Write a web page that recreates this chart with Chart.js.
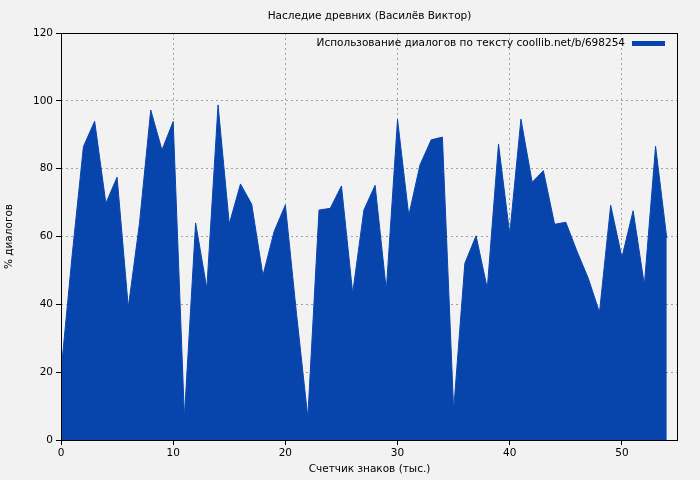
<!DOCTYPE html>
<html>
<head>
<meta charset="utf-8">
<script src="https://cdn.jsdelivr.net/npm/chart.js@4"></script>
<style>
    html, body { margin: 0; padding: 0; background: #f2f2f2; }
    #wrap { width: 700px; height: 480px; }
</style>
</head>
<body>
<div id="wrap"><canvas id="chart" width="700" height="480"></canvas></div>
<script>
const chartTitle = "Наследие древних (Василёв Виктор)";
const seriesLabel = "Использование диалогов по тексту coollib.net/b/698254";
const xTitle = "Счетчик знаков (тыс.)";
const yTitle = "% диалогов";

// thousands of characters
const positions = [
    0, 1, 2, 3, 4, 5, 6, 7, 8, 9,
    10, 11, 12, 13, 14, 15, 16, 17, 18, 19,
    20, 21, 22, 23, 24, 25, 26, 27, 28, 29,
    30, 31, 32, 33, 34, 35, 36, 37, 38, 39,
    40, 41, 42, 43, 44, 45, 46, 47, 48, 49,
    50, 51, 52, 53, 54,
];
// % of dialogue
const dialogShare = [
    20, 54.6, 86.5, 94, 69.8, 77.5, 39.1, 64, 97.3, 85.5,
    93.9, 6.7, 64, 44.7, 98.8, 63.7, 75.5, 69.5, 48.5, 61.5,
    69.3, 37, 6.7, 67.8, 68.3, 74.9, 43.3, 67.8, 75.1, 44.2,
    94.5, 66.2, 81.1, 88.5, 89.3, 8.8, 52.1, 60.2, 44.7, 87.3,
    60.7, 94.6, 76, 79.4, 63.6, 64.2, 55.6, 47.7, 37.6, 69.2,
    53.8, 67.6, 45.7, 86.6, 59.5,
];

const FONT = "'DejaVu Sans', sans-serif";
const FONT_SIZE = 10.5;
const FILL = "#0745ad";

const decorations = {
    id: "decorations",
    afterDraw(chart) {
        const { ctx, chartArea: a } = chart;
        ctx.save();
        ctx.strokeStyle = "#000";
        ctx.lineWidth = 1;
        ctx.strokeRect(a.left + 0.5, a.top + 0.5, a.right - a.left - 1, a.bottom - a.top);

        ctx.fillStyle = "#000";
        ctx.font = FONT_SIZE + "px " + FONT;
        ctx.textBaseline = "middle";
        ctx.textAlign = "center";
        ctx.fillText(chartTitle, (a.left + a.right) / 2, 16);

        ctx.textAlign = "right";
        ctx.fillText(seriesLabel, a.right - 53, a.top + 10);
        ctx.fillStyle = FILL;
        ctx.fillRect(a.right - 46, a.top + 8, 33, 5);
        ctx.restore();
    },
};

const ctx = document.getElementById("chart").getContext("2d");
new Chart(ctx, {
    type: "line",
    data: {
        datasets: [
            {
                label: seriesLabel,
                data: positions.map((x, i) => ({ x, y: dialogShare[i] })),
                fill: "origin",
                backgroundColor: FILL,
                borderColor: FILL,
                borderWidth: 1,
                pointRadius: 0,
                tension: 0,
            },
        ],
    },
    options: {
        responsive: false,
        animation: false,
        layout: { padding: { top: 33, right: 22, left: 0, bottom: 0 } },
        plugins: {
            legend: { display: false },
            title: { display: false },
            tooltip: { enabled: false },
        },
        scales: {
            x: {
                type: "linear",
                min: 0,
                max: 55,
                afterFit: (scale) => { scale.height = 40; },
                ticks: {
                    stepSize: 10,
                    includeBounds: false,
                    color: "#000",
                    font: { family: FONT, size: FONT_SIZE },
                    padding: 2,
                    maxRotation: 0,
                },
                grid: {
                    color: "#a0a0a0",
                    tickColor: "#000",
                    tickLength: 5,
                    tickBorderDash: [],
                },
                border: { display: false, dash: [2, 3] },
                title: {
                    display: true,
                    text: xTitle,
                    color: "#000",
                    font: { family: FONT, size: FONT_SIZE },
                    padding: { top: 0, bottom: 4 },
                },
            },
            y: {
                min: 0,
                max: 120,
                afterFit: (scale) => { scale.width = 61; },
                ticks: {
                    stepSize: 20,
                    color: "#000",
                    font: { family: FONT, size: FONT_SIZE },
                    padding: 3,
                },
                grid: {
                    color: "#a0a0a0",
                    tickColor: "#000",
                    tickLength: 5,
                    tickBorderDash: [],
                },
                border: { display: false, dash: [2, 3] },
                title: {
                    display: true,
                    text: yTitle,
                    color: "#000",
                    font: { family: FONT, size: FONT_SIZE },
                    padding: { top: 3, bottom: 0 },
                },
            },
        },
    },
    plugins: [decorations],
});
</script>
</body>
</html>
